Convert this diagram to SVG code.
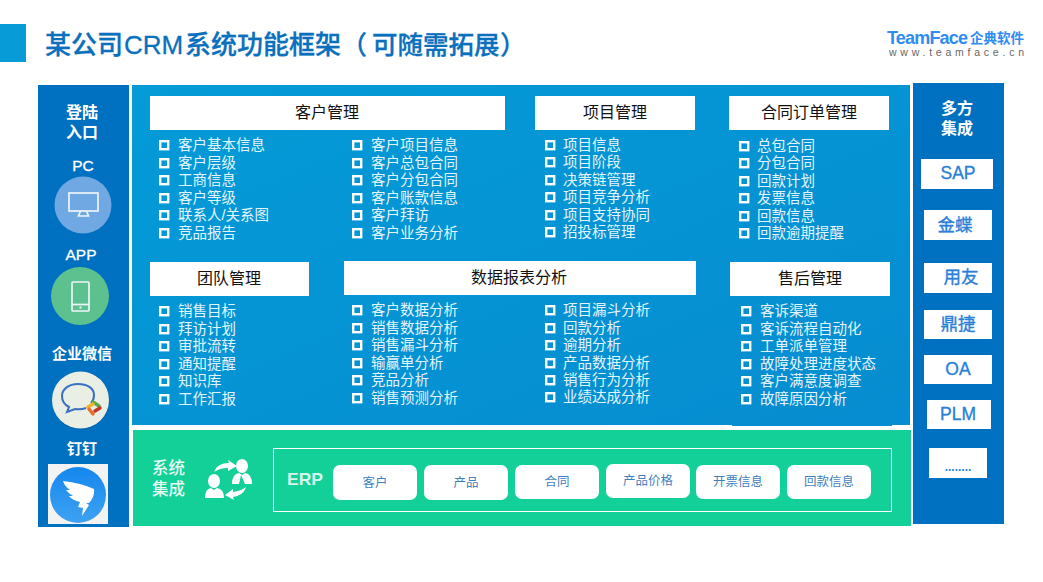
<svg xmlns="http://www.w3.org/2000/svg" width="1043" height="582" viewBox="0 0 1043 582">
<defs>
<style>
text{font-family:"Liberation Sans","Noto Sans CJK SC",sans-serif}
.i{font-size:14.500px;fill:#e3f5fc}
.h{font-size:16px;fill:#111;text-anchor:middle;font-family:"Noto Sans CJK SC",sans-serif}
.w{fill:#fff;font-weight:700;text-anchor:middle}
.l{fill:#fff;text-anchor:middle;font-size:15.500px;stroke:#fff;stroke-width:.3}
.b{font-size:17.500px;fill:#2a7fd8;text-anchor:middle;stroke:#2a7fd8;stroke-width:.35}
.e{font-size:12.500px;fill:#3f7fc0;text-anchor:middle}
.c{fill:none;stroke:#fff;stroke-width:2.400}
.ln{fill:none;stroke:#eef4fb;stroke-width:1.700}
</style>
<symbol id="cb" overflow="visible"><rect x="1.200" y="1.200" width="8" height="8" class="c"/></symbol>
<linearGradient id="main" x1="0" y1="0" x2="1" y2="1"><stop offset="0" stop-color="#049bd7"/><stop offset="1" stop-color="#068cd0"/></linearGradient>
<linearGradient id="ding" x1="0" y1="0" x2="0" y2="1"><stop offset="0" stop-color="#1587ee"/><stop offset="1" stop-color="#3ea2f2"/></linearGradient>
</defs>
<g id="header">
<rect x="0" y="24" width="26" height="38" fill="#079bd8"/>
<text y="54" font-size="26" font-weight="500" fill="#0a70bd" stroke="#0a70bd" stroke-width=".3" style="font-family:'Noto Sans CJK SC',sans-serif"><tspan x="45">某公司</tspan><tspan x="124" style="font-family:'Liberation Sans',sans-serif" font-weight="400">CRM</tspan><tspan x="185">系统功能框架</tspan><tspan x="341">（</tspan><tspan x="372" font-size="25.500">可随需拓展</tspan><tspan x="500">）</tspan></text>
<text x="887" y="44" font-size="18" font-weight="700" fill="#2f8cf0" textLength="81">TeamFace</text>
<text x="970" y="43" font-size="13.500" font-weight="700" fill="#2f8cf0" style="font-family:'Noto Sans CJK SC',sans-serif">企典软件</text>
<text x="889" y="56" font-size="10.500" fill="#666" textLength="135">www.teamface.cn</text>
</g>
<g id="panels">
<rect x="38" y="85" width="91" height="442" fill="#0070c0"/>
<rect x="132" y="85" width="778" height="340" fill="url(#main)"/>
<rect x="732" y="425" width="160" height="1" fill="#068cd0"/>
<rect x="133" y="430" width="778" height="96" fill="#13cf98"/>
<rect x="913" y="83" width="91" height="441" fill="#0070c0"/>
</g>
<g id="login">
<text class="w" font-size="16"><tspan x="82" y="118">登陆</tspan><tspan x="82" y="138">入口</tspan></text>
<text class="l" x="83" y="171">PC</text>
<g id="node-pc"><circle cx="83" cy="205" r="28.500" fill="#6fa8e2"/><rect x="69" y="193" width="29" height="18" class="ln"/><path d="M80.500 211l-2 5h10l-2-5" class="ln"/></g>
<text class="l" x="81" y="260">APP</text>
<g id="node-app"><circle cx="80" cy="296" r="29" fill="#5cc08f"/><rect x="72" y="282" width="17" height="29" rx="1" class="ln"/><path d="M72 304.500h17" class="ln"/><rect x="79.500" y="306.500" width="2" height="2" fill="#eef4fb"/></g>
<text class="w" x="82" y="359" font-size="15">企业微信</text>
<g id="node-wechat"><circle cx="81" cy="401" r="29" fill="#0a5fa4" opacity=".35"/><circle cx="80.500" cy="400" r="28.500" fill="#e9efe4"/><path d="M91 403q3-3 3-8c0-7-7-11-16-11s-16 5-16 12c0 5 3 9 7 11l-2 5 8-3q6 1 11-1" fill="none" stroke="#3a6fc4" stroke-width="2"/><path d="M93 402l6 4" stroke="#5aa84a" stroke-width="3.500" stroke-linecap="round"/><path d="M88 407l5-3" stroke="#f0b429" stroke-width="3.500" stroke-linecap="round"/><path d="M100 408l-5 3" stroke="#c0392b" stroke-width="3.500" stroke-linecap="round"/><path d="M89 409l4 5" stroke="#e8702a" stroke-width="3.500" stroke-linecap="round"/></g>
<text class="w" x="82" y="454" font-size="15">钉钉</text>
<g id="node-dingtalk"><rect x="48" y="464" width="60" height="60" fill="#f3f3f3"/><circle cx="78" cy="495" r="28" fill="url(#ding)"/><path d="M63 481q18 2 31 8 1 8-5 14l-3 0 3 2-7 11 1-8-5-1 2-5q-8-2-11-6l4 0q-5-3-7-6l4 0q-5-3-7-9z" fill="#fff"/></g>
</g>
<g id="card-customer">
<rect x="150" y="96" width="355" height="34" fill="#fff"/><text class="h" x="327" y="118">客户管理</text>
<use href="#cb" x="159" y="140"/><text class="i" x="178" y="150">客户基本信息</text>
<use href="#cb" x="159" y="158"/><text class="i" x="178" y="168">客户层级</text>
<use href="#cb" x="159" y="175"/><text class="i" x="178" y="185">工商信息</text>
<use href="#cb" x="159" y="193"/><text class="i" x="178" y="203">客户等级</text>
<use href="#cb" x="159" y="210"/><text class="i" x="178" y="220">联系人/关系图</text>
<use href="#cb" x="159" y="228"/><text class="i" x="178" y="238">竞品报告</text>
<use href="#cb" x="352" y="140"/><text class="i" x="371" y="150">客户项目信息</text>
<use href="#cb" x="352" y="158"/><text class="i" x="371" y="168">客户总包合同</text>
<use href="#cb" x="352" y="175"/><text class="i" x="371" y="185">客户分包合同</text>
<use href="#cb" x="352" y="193"/><text class="i" x="371" y="203">客户账款信息</text>
<use href="#cb" x="352" y="210"/><text class="i" x="371" y="220">客户拜访</text>
<use href="#cb" x="352" y="228"/><text class="i" x="371" y="238">客户业务分析</text>
</g>
<g id="card-project">
<rect x="535" y="96" width="160" height="34" fill="#fff"/><text class="h" x="615" y="118">项目管理</text>
<use href="#cb" x="545" y="140"/><text class="i" x="563" y="150">项目信息</text>
<use href="#cb" x="545" y="157"/><text class="i" x="563" y="167">项目阶段</text>
<use href="#cb" x="545" y="175"/><text class="i" x="563" y="185">决策链管理</text>
<use href="#cb" x="545" y="192"/><text class="i" x="563" y="202">项目竞争分析</text>
<use href="#cb" x="545" y="210"/><text class="i" x="563" y="220">项目支持协同</text>
<use href="#cb" x="545" y="227"/><text class="i" x="563" y="237">招投标管理</text>
</g>
<g id="card-order">
<rect x="729" y="96" width="160" height="34" fill="#fff"/><text class="h" x="809" y="118">合同订单管理</text>
<use href="#cb" x="739" y="141"/><text class="i" x="757" y="151">总包合同</text>
<use href="#cb" x="739" y="158"/><text class="i" x="757" y="168">分包合同</text>
<use href="#cb" x="739" y="176"/><text class="i" x="757" y="186">回款计划</text>
<use href="#cb" x="739" y="193"/><text class="i" x="757" y="203">发票信息</text>
<use href="#cb" x="739" y="211"/><text class="i" x="757" y="221">回款信息</text>
<use href="#cb" x="739" y="228"/><text class="i" x="757" y="238">回款逾期提醒</text>
</g>
<g id="card-team">
<rect x="150" y="262" width="159" height="34" fill="#fff"/><text class="h" x="229" y="284">团队管理</text>
<use href="#cb" x="159" y="306"/><text class="i" x="178" y="316">销售目标</text>
<use href="#cb" x="159" y="324"/><text class="i" x="178" y="334">拜访计划</text>
<use href="#cb" x="159" y="341"/><text class="i" x="178" y="351">审批流转</text>
<use href="#cb" x="159" y="359"/><text class="i" x="178" y="369">通知提醒</text>
<use href="#cb" x="159" y="376"/><text class="i" x="178" y="386">知识库</text>
<use href="#cb" x="159" y="394"/><text class="i" x="178" y="404">工作汇报</text>
</g>
<g id="card-report">
<rect x="344" y="261" width="352" height="34" fill="#fff"/><text class="h" x="519" y="283">数据报表分析</text>
<use href="#cb" x="352" y="305"/><text class="i" x="371" y="315">客户数据分析</text>
<use href="#cb" x="352" y="323"/><text class="i" x="371" y="333">销售数据分析</text>
<use href="#cb" x="352" y="340"/><text class="i" x="371" y="350">销售漏斗分析</text>
<use href="#cb" x="352" y="358"/><text class="i" x="371" y="368">输赢单分析</text>
<use href="#cb" x="352" y="375"/><text class="i" x="371" y="385">竞品分析</text>
<use href="#cb" x="352" y="393"/><text class="i" x="371" y="403">销售预测分析</text>
<use href="#cb" x="545" y="305"/><text class="i" x="563" y="315">项目漏斗分析</text>
<use href="#cb" x="545" y="323"/><text class="i" x="563" y="333">回款分析</text>
<use href="#cb" x="545" y="340"/><text class="i" x="563" y="350">逾期分析</text>
<use href="#cb" x="545" y="358"/><text class="i" x="563" y="368">产品数据分析</text>
<use href="#cb" x="545" y="375"/><text class="i" x="563" y="385">销售行为分析</text>
<use href="#cb" x="545" y="392"/><text class="i" x="563" y="402">业绩达成分析</text>
</g>
<g id="card-service">
<rect x="730" y="262" width="160" height="34" fill="#fff"/><text class="h" x="810" y="284">售后管理</text>
<use href="#cb" x="741" y="306"/><text class="i" x="760" y="316">客诉渠道</text>
<use href="#cb" x="741" y="324"/><text class="i" x="760" y="334">客诉流程自动化</text>
<use href="#cb" x="741" y="341"/><text class="i" x="760" y="351">工单派单管理</text>
<use href="#cb" x="741" y="359"/><text class="i" x="760" y="369">故障处理进度状态</text>
<use href="#cb" x="741" y="376"/><text class="i" x="760" y="386">客户满意度调查</text>
<use href="#cb" x="741" y="394"/><text class="i" x="760" y="404">故障原因分析</text>
</g>
<g id="system">
<text font-size="16.500" font-weight="500" fill="#e6fbf4"><tspan x="152" y="474">系统</tspan><tspan x="152" y="495">集成</tspan></text>
<g id="node-icon" fill="#fff"><ellipse cx="214" cy="481" rx="6" ry="7"/><path d="M205 498q0-9 6-10l3 2 3-2q7 1 7 10z"/><ellipse cx="242" cy="466" rx="6" ry="7"/><path d="M232 484q0-10 7-11l3 2 3-2q7 1 7 11z"/><path d="M241 475l-2 9h6z" fill="#13cf98"/><path d="M214 472q3-9 15-9l-1-3 9 6-9 5 0-3q-8 0-14 4z"/><path d="M246 487q-2 8-13 10l1 3-9-5 8-6 0 3q8-1 13-5z"/></g>
<rect x="273.500" y="448.500" width="618" height="63" fill="none" stroke="#fff" stroke-width="1"/>
<text x="287" y="485" font-size="17" font-weight="700" fill="#d6f6ec" textLength="36" lengthAdjust="spacingAndGlyphs">ERP</text>
<g id="node-customer"><rect x="333" y="465" width="84" height="35" rx="7" fill="#fff"/><text class="e" x="375" y="487">客户</text></g>
<g id="node-product"><rect x="424" y="465" width="84" height="35" rx="7" fill="#fff"/><text class="e" x="466" y="487">产品</text></g>
<g id="node-contract"><rect x="515" y="465" width="84" height="34" rx="7" fill="#fff"/><text class="e" x="557" y="486">合同</text></g>
<g id="node-price"><rect x="606" y="464" width="84" height="34" rx="7" fill="#fff"/><text class="e" x="648" y="485">产品价格</text></g>
<g id="node-invoice"><rect x="696" y="465" width="84" height="34" rx="7" fill="#fff"/><text class="e" x="738" y="486">开票信息</text></g>
<g id="node-payment"><rect x="787" y="465" width="84" height="34" rx="7" fill="#fff"/><text class="e" x="829" y="486">回款信息</text></g>
</g>
<g id="integration">
<text class="w" font-size="16"><tspan x="957" y="114">多方</tspan><tspan x="957" y="134">集成</tspan></text>
<g id="node-sap"><rect x="921" y="159" width="72" height="30" fill="#fff"/><text class="b" x="958" y="179">SAP</text></g>
<g id="node-kingdee"><rect x="924" y="210" width="68" height="30" fill="#fff"/><text class="b" x="955" y="231" font-size="16">金蝶</text></g>
<g id="node-yonyou"><rect x="924" y="263" width="68" height="30" fill="#fff"/><text class="b" x="961" y="283" font-size="16">用友</text></g>
<g id="node-dingjie"><rect x="924" y="310" width="68" height="29" fill="#fff"/><text class="b" x="958" y="330" font-size="16">鼎捷</text></g>
<g id="node-oa"><rect x="924" y="355" width="68" height="29" fill="#fff"/><text class="b" x="958" y="375">OA</text></g>
<g id="node-plm"><rect x="927" y="400" width="64" height="29" fill="#fff"/><text class="b" x="958" y="420">PLM</text></g>
<g id="node-more"><rect x="929" y="448" width="58" height="30" fill="#fff"/><text x="958" y="471" font-size="12" font-weight="700" fill="#2a7fd8" text-anchor="middle">........</text></g>
</g>
</svg>
